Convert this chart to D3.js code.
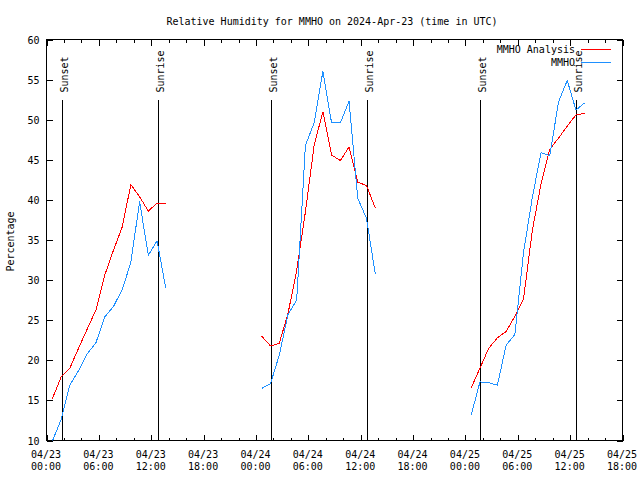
<!DOCTYPE html>
<html>
<head>
<meta charset="utf-8">
<script src="https://cdn.jsdelivr.net/npm/d3@7"></script>
<style>
  html, body { margin: 0; padding: 0; background: #fff; }
  svg { display: block; }
  text { font-family: "DejaVu Sans Mono", monospace; font-size: 10px; fill: #000; }
</style>
</head>
<body>
<svg id="chart" width="640" height="480"></svg>
<script>
// ---------------- data ----------------
const title = "Relative Humidity for MMHO on 2024-Apr-23 (time in UTC)";
const yLabel = "Percentage";
const seriesNames = ["MMHO Analysis", "MMHO"];
const seriesColors = ["#ff0000", "#1e90ff"];

const obsTimes = [
  "2024-04-23T00:40Z","2024-04-23T01:40Z","2024-04-23T02:40Z","2024-04-23T03:40Z","2024-04-23T04:40Z",
  "2024-04-23T05:40Z","2024-04-23T06:40Z","2024-04-23T07:40Z","2024-04-23T08:40Z","2024-04-23T09:40Z",
  "2024-04-23T10:40Z","2024-04-23T11:40Z","2024-04-23T12:40Z","2024-04-23T13:40Z",
  "2024-04-24T00:40Z","2024-04-24T01:40Z","2024-04-24T02:40Z","2024-04-24T03:40Z","2024-04-24T04:40Z",
  "2024-04-24T05:40Z","2024-04-24T06:40Z","2024-04-24T07:40Z","2024-04-24T08:40Z","2024-04-24T09:40Z",
  "2024-04-24T10:40Z","2024-04-24T11:40Z","2024-04-24T12:40Z","2024-04-24T13:40Z",
  "2024-04-25T00:40Z","2024-04-25T01:40Z","2024-04-25T02:40Z","2024-04-25T03:40Z","2024-04-25T04:40Z",
  "2024-04-25T05:40Z","2024-04-25T06:40Z","2024-04-25T07:40Z","2024-04-25T08:40Z","2024-04-25T09:40Z",
  "2024-04-25T10:40Z","2024-04-25T11:40Z","2024-04-25T12:40Z","2024-04-25T13:40Z"
];

const analysisValues = [
  15.2, 17.9, 19.0, 21.5, 23.9, 26.3, 30.6, 33.7, 36.6, 41.9, 40.4, 38.6, 39.6, 39.6,
  23.0, 21.8, 22.1, 25.8, 31.2, 38.5, 46.8, 51.0, 45.6, 44.9, 46.6, 42.2, 41.8, 39.0,
  16.6, 19.0, 21.5, 22.8, 23.6, 25.5, 27.7, 36.2, 42.0, 46.3, 47.7, 49.2, 50.6, 50.8
];

const obsValues = [
   9.9, 12.6, 16.9, 18.7, 20.8, 22.2, 25.4, 26.7, 28.8, 32.2, 39.8, 33.1, 34.9, 29.0,
  16.5, 17.1, 20.6, 25.7, 27.5, 46.8, 49.6, 56.0, 49.6, 49.6, 52.3, 40.2, 37.7, 30.8,
  13.2, 17.3, 17.2, 16.9, 21.9, 23.2, 33.5, 40.3, 45.9, 45.5, 52.2, 54.9, 51.2, 52.1
];

const sunTimes = [
  "2024-04-23T01:50Z","2024-04-23T12:50Z",
  "2024-04-24T01:45Z","2024-04-24T12:47Z",
  "2024-04-25T01:44Z","2024-04-25T12:42Z"
];
const sunLabels = ["Sunset","Sunrise","Sunset","Sunrise","Sunset","Sunrise"];

const xDomain = ["2024-04-23T00:00Z", "2024-04-25T18:00Z"];
const yDomain = [10, 60];
const yTicks = [10, 15, 20, 25, 30, 35, 40, 45, 50, 55, 60];

// ---------------- drawing ----------------
const svg = d3.select("#chart");
const L = 46.5, R = 622.5, T = 39.5, B = 440.5;

const x = d3.scaleUtc().domain(xDomain.map(d => new Date(d))).range([L, R]);
const y = d3.scaleLinear().domain(yDomain).range([B, T]);

const majorTicks = d3.utcHour.every(6).range(x.domain()[0], new Date(+x.domain()[1] + 1));
const minorTicks = d3.utcHour.every(2).range(x.domain()[0], new Date(+x.domain()[1] + 1))
  .filter(t => t.getUTCHours() % 6 !== 0);

svg.append("defs").append("clipPath").attr("id", "clip")
  .append("rect").attr("x", L).attr("y", T).attr("width", R - L).attr("height", B - T);

// title
svg.append("text").attr("x", 332).attr("y", 24.5).attr("text-anchor", "middle").text(title);

// y label
svg.append("text")
  .attr("transform", "translate(13.5,241.5) rotate(-90)")
  .attr("text-anchor", "middle").text(yLabel);

const fmtDate = d3.utcFormat("%m/%d"), fmtTime = d3.utcFormat("%H:%M");

function styleAxis(g) {
  g.select(".domain").remove();
  g.selectAll(".tick line").attr("stroke", "#000").attr("shape-rendering", "crispEdges");
  g.selectAll("text").style("font-family", "DejaVu Sans Mono, monospace").style("font-size", "10px");
}

// bottom axis (major with labels)
const xAxisB = svg.append("g").attr("transform", `translate(0,${B})`)
  .call(d3.axisBottom(x).tickValues(majorTicks).tickSizeInner(-6).tickSizeOuter(0).tickPadding(0)
    .tickFormat(d => fmtDate(d) + "|" + fmtTime(d)));
xAxisB.selectAll(".tick text").each(function() {
  const parts = d3.select(this).text().split("|");
  const t = d3.select(this).text(null).attr("dy", null).attr("y", null);
  t.append("tspan").attr("x", -1).attr("y", 17.5).text(parts[0]);
  t.append("tspan").attr("x", -1).attr("y", 29.5).text(parts[1]);
});
styleAxis(xAxisB);
svg.append("g").attr("transform", `translate(0,${B})`)
  .call(d3.axisBottom(x).tickValues(minorTicks).tickSizeInner(-3).tickSizeOuter(0).tickFormat(""))
  .call(styleAxis);
// top mirror
svg.append("g").attr("transform", `translate(0,${T})`)
  .call(d3.axisTop(x).tickValues(majorTicks).tickSizeInner(-6).tickSizeOuter(0).tickFormat(""))
  .call(styleAxis);
svg.append("g").attr("transform", `translate(0,${T})`)
  .call(d3.axisTop(x).tickValues(minorTicks).tickSizeInner(-3).tickSizeOuter(0).tickFormat(""))
  .call(styleAxis);

// y axes
const yAxisL = svg.append("g").attr("transform", `translate(${L},0)`)
  .call(d3.axisLeft(y).tickValues(yTicks).tickSizeInner(-6).tickSizeOuter(0).tickPadding(7));
yAxisL.selectAll(".tick text").attr("dy", "0.35em");
styleAxis(yAxisL);
svg.append("g").attr("transform", `translate(${R},0)`)
  .call(d3.axisRight(y).tickValues(yTicks).tickSizeInner(-6).tickSizeOuter(0).tickFormat(""))
  .call(styleAxis);

// frame
svg.append("rect").attr("x", L).attr("y", T).attr("width", R - L).attr("height", B - T)
  .attr("fill", "none").attr("stroke", "#000").attr("shape-rendering", "crispEdges");

// sunrise / sunset lines
const sunTop = 99.5;
const sun = svg.append("g");
sunTimes.forEach((s, i) => {
  const xs = Math.round(x(new Date(s)) - 0.5) + 0.5;
  sun.append("line").attr("x1", xs).attr("x2", xs).attr("y1", sunTop).attr("y2", B)
    .attr("stroke", "#000").attr("shape-rendering", "crispEdges");
  sun.append("text").attr("transform", `translate(${xs + 5.5},92.5) rotate(-90)`)
    .attr("text-anchor", "start").text(sunLabels[i]);
});

// data lines (split into segments at gaps)
const times = obsTimes.map(t => new Date(t));
function segments(values) {
  const segs = [];
  let cur = [];
  values.forEach((v, i) => {
    if (i > 0 && (times[i] - times[i - 1]) > 3 * 3600e3) { segs.push(cur); cur = []; }
    cur.push([times[i], v]);
  });
  segs.push(cur);
  return segs;
}
const line = d3.line().x(d => x(d[0])).y(d => y(d[1]));
const plot = svg.append("g").attr("clip-path", "url(#clip)");
[analysisValues, obsValues].forEach((vals, k) => {
  plot.selectAll(null).data(segments(vals)).join("path")
    .attr("d", line).attr("fill", "none").attr("stroke", seriesColors[k]).attr("stroke-width", 1)
    .attr("shape-rendering", "crispEdges");
});

// legend
const leg = svg.append("g");
seriesNames.forEach((n, i) => {
  const ly = 49.5 + i * 13;
  leg.append("text").attr("x", 575).attr("y", ly + 3.5).attr("text-anchor", "end").text(n);
  leg.append("line").attr("x1", 581).attr("x2", 611).attr("y1", ly).attr("y2", ly)
    .attr("stroke", seriesColors[i]).attr("shape-rendering", "crispEdges");
});
</script>
</body>
</html>
